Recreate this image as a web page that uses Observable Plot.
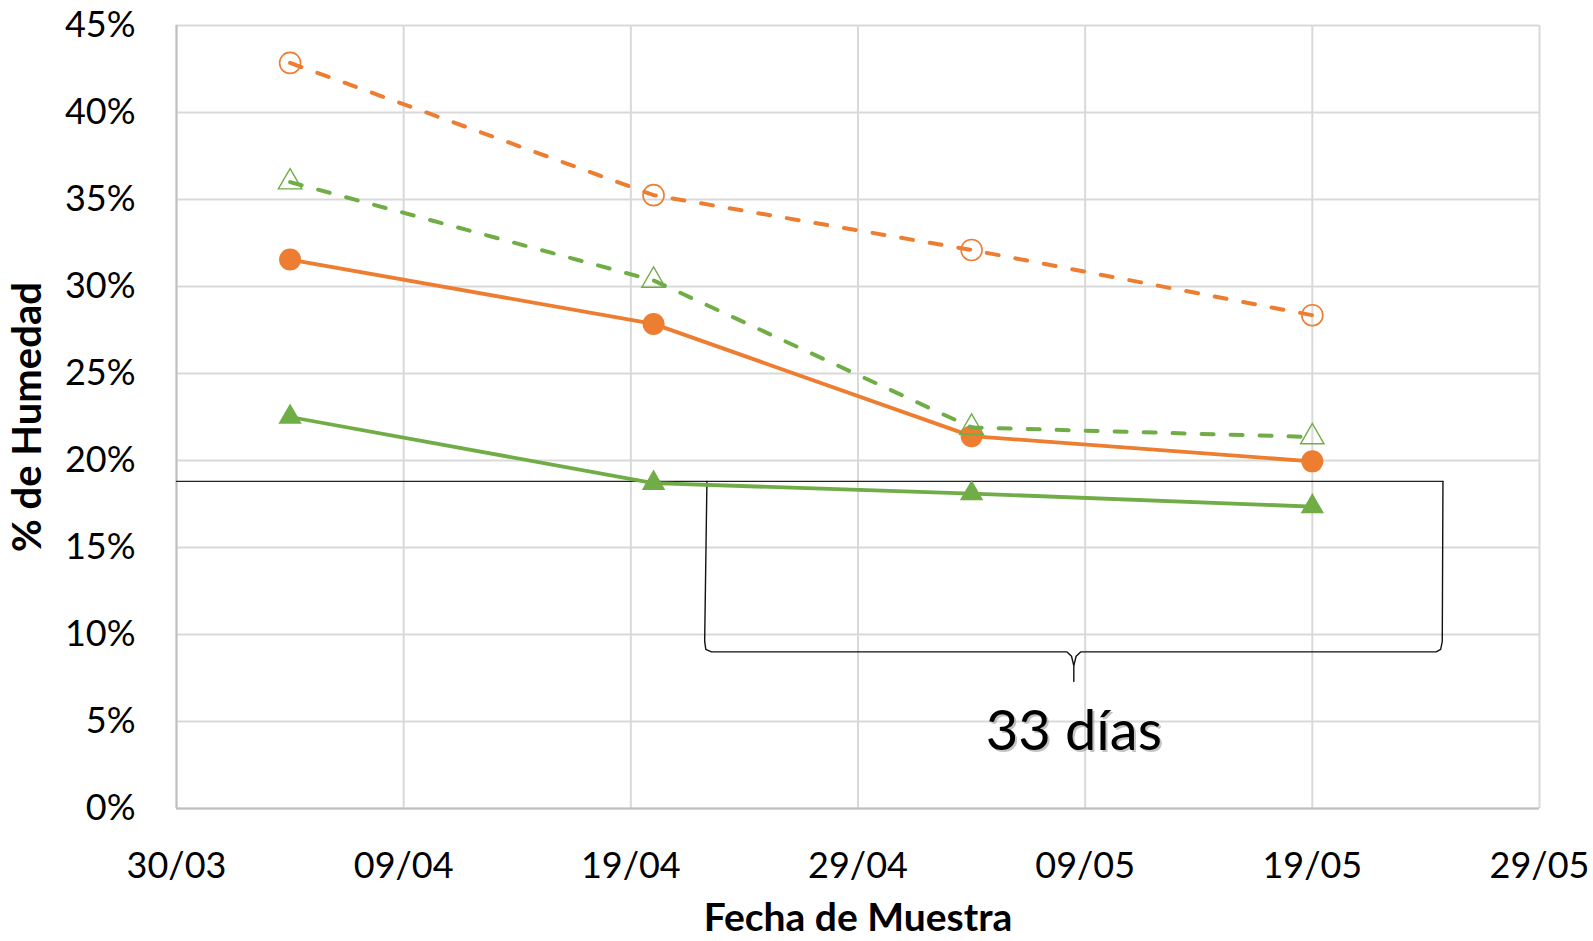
<!DOCTYPE html>
<html>
<head>
<meta charset="utf-8">
<script src="https://cdn.jsdelivr.net/npm/d3@7"></script>
<script src="https://cdn.jsdelivr.net/npm/@observablehq/plot@0.6"></script>
<style>
  html, body { margin: 0; padding: 0; background: #fff; overflow: hidden; }
  #chart svg { display: block; }
</style>
</head>
<body>
<div id="chart"></div>
<script>
// ---- Data ----
const fechas = ["2021-04-04", "2021-04-20", "2021-05-04", "2021-05-19"];
const naranjaDiscontinua = [42.85, 35.25, 32.1, 28.35];   // open circles, dashed
const verdeDiscontinua   = [36.0, 30.35, 21.9, 21.35];    // open triangles, dashed
const naranjaContinua    = [31.55, 27.85, 21.4, 19.95];   // filled circles, solid
const verdeContinua      = [22.5, 18.7, 18.1, 17.35];     // filled triangles, solid

const xTicks = ["2021-03-30", "2021-04-09", "2021-04-19", "2021-04-29", "2021-05-09", "2021-05-19", "2021-05-29"];
const yTicks = [0, 5, 10, 15, 20, 25, 30, 35, 40, 45];

// Annotation: reference line and brace (x in days after 30/03, y in %)
const fechaOrigen = "2021-03-30";
const lineaDias = [0, 55.75];
const lineaValor = 18.8;
const llaveDias    = [23.35, 23.25, 23.3, 23.55, 39.2, 39.4, 39.5, 39.5, 39.5, 39.6, 39.8, 55.45, 55.65, 55.72, 55.75];
const llaveValores = [18.8,  9.6,   9.15, 9.0,  9.0,  8.75, 8.2,  7.3,  8.2,  8.75, 9.0,  9.0,   9.15,  9.6,   18.8];
const etiquetaDias = 39.5;
const etiquetaValor = 4.4;
const etiquetaTexto = "33 días";

const xLabel = "Fecha de Muestra";
const yLabel = "% de Humedad";

// ---- Build tables ----
const naranja = "#ED7D31", verde = "#70AD47";
const parse = s => new Date(s);
const origen = +parse(fechaOrigen);
const deDias = d => new Date(origen + d * 864e5);

const serie = vals => fechas.map((f, i) => ({fecha: parse(f), valor: vals[i]}));
const sND = serie(naranjaDiscontinua);
const sVD = serie(verdeDiscontinua);
const sNC = serie(naranjaContinua);
const sVC = serie(verdeContinua);
const linea = lineaDias.map(d => ({fecha: deDias(d), valor: lineaValor}));
const llave = llaveDias.map((d, i) => ({fecha: deDias(d), valor: llaveValores[i]}));
const etiqueta = [{fecha: deDias(etiquetaDias), valor: etiquetaValor, t: etiquetaTexto}];

const chart = Plot.plot({
  width: 1593,
  height: 941,
  marginLeft: 176,
  marginRight: 54,
  marginTop: 25,
  marginBottom: 133,
  style: {fontFamily: "Lato, 'Open Sans', sans-serif", fontSize: "36px", color: "#000", background: "#fff"},
  x: {type: "utc", domain: [parse(xTicks[0]), parse(xTicks[xTicks.length - 1])]},
  y: {domain: [0, 45]},
  marks: [
    Plot.gridX(xTicks.map(parse), {stroke: "#D9D9D9", strokeOpacity: 1, strokeWidth: 2}),
    Plot.gridY(yTicks, {stroke: "#D9D9D9", strokeOpacity: 1, strokeWidth: 2}),
    Plot.ruleY([0], {stroke: "#BFBFBF", strokeWidth: 2}),
    Plot.ruleX([parse(xTicks[0])], {stroke: "#BFBFBF", strokeWidth: 2}),
    Plot.axisX({ticks: xTicks.map(parse), tickFormat: d3.utcFormat("%d/%m"), tickSize: 0, tickPadding: 44, fontSize: 36, label: null}),
    Plot.axisY({ticks: yTicks, tickFormat: d => d + "%", tickSize: 0, tickPadding: 41, fontSize: 36, label: null}),
    // annotation
    Plot.line(linea, {x: "fecha", y: "valor", stroke: "#222", strokeWidth: 1.4}),
    Plot.line(llave, {x: "fecha", y: "valor", stroke: "#111", strokeWidth: 1.4, curve: "linear"}),
    Plot.text(etiqueta, {x: "fecha", y: "valor", text: "t", fontSize: 56, fill: "#888", fillOpacity: 0.5, dx: 2, dy: 2}),
    Plot.text(etiqueta, {x: "fecha", y: "valor", text: "t", fontSize: 56, fill: "#000"}),
    // series
    Plot.line(sNC, {x: "fecha", y: "valor", stroke: naranja, strokeWidth: 3.8}),
    Plot.dot(sNC, {x: "fecha", y: "valor", r: 11, fill: naranja, stroke: "none"}),
    Plot.line(sVC, {x: "fecha", y: "valor", stroke: verde, strokeWidth: 3.8}),
    Plot.dot(sVC, {x: "fecha", y: "valor", symbol: "triangle", r: 8.7, fill: verde, stroke: "none"}),
    Plot.line(sND, {x: "fecha", y: "valor", stroke: naranja, strokeWidth: 4, strokeDasharray: "12,17", strokeLinecap: "round"}),
    Plot.dot(sND, {x: "fecha", y: "valor", r: 10.5, fill: "none", stroke: naranja, strokeWidth: 1.6}),
    Plot.line(sVD, {x: "fecha", y: "valor", stroke: verde, strokeWidth: 4, strokeDasharray: "12,17", strokeLinecap: "round"}),
    Plot.dot(sVD, {x: "fecha", y: "valor", symbol: "triangle", r: 8.7, fill: "none", stroke: verde, strokeWidth: 1.4}),
    // axis titles
    Plot.text([xLabel], {frameAnchor: "bottom", textAnchor: "middle", lineAnchor: "middle", dy: 110, text: d => d, fontSize: 39, fontWeight: "bold", fill: "#000"}),
    Plot.text([yLabel], {frameAnchor: "left", textAnchor: "middle", lineAnchor: "middle", dx: -148, rotate: -90, text: d => d, fontSize: 40, fontWeight: "bold", fill: "#000"})
  ]
});
document.getElementById("chart").appendChild(chart);
</script>
</body>
</html>
